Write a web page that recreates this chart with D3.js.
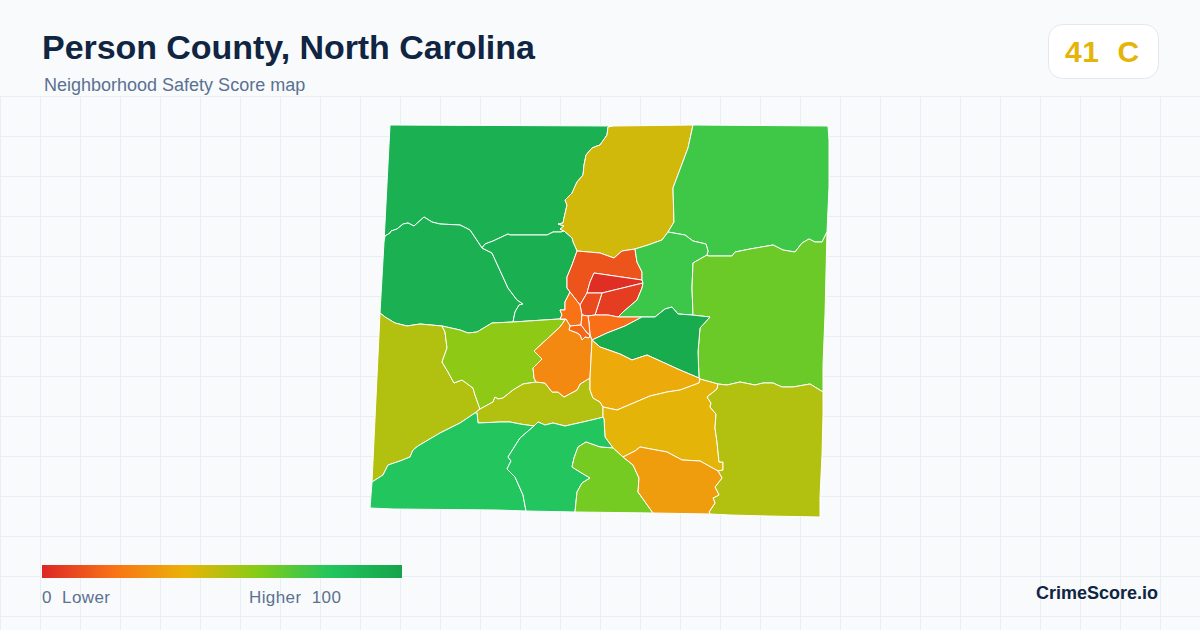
<!DOCTYPE html>
<html>
<head>
    <title>Person County, North Carolina</title>
    <script src="https://d3js.org/d3.v7.min.js"></script>
    <style>
        html, body { margin: 0; padding: 0; background: #f8fafc; }
        svg { display: block; font-family: "Liberation Sans", Arial, sans-serif; }
        text { white-space: pre; }
    </style>
</head>
<body>
    <svg id="chart" width="1200" height="630"></svg>

    <script>
        const titleText = 'Person County, North Carolina';
        const subtitleText = 'Neighborhood Safety Score map';
        const badgeText = '41  C';
        const badgeScore = 41;

        // color ramp of the legend
        const rampStops = [0, 20, 40, 60, 80, 100];
        const rampColors = ['#dc2626', '#f97316', '#eab308', '#84cc16', '#22c55e', '#16a34a'];

        // one score per tract, same order as tractRings
        const tractScores = [92, 45, 74, 92, 93, 12, 2, 6, 9.5, 74.5, 65, 51, 58, 51, 19, 20, 18, 17, 27, 95, 37.5, 41, 51, 80, 80, 63, 33];

        const tractRings = [
            // north west
            [[30,10],[253,11],[248,12],[247,20],[240,30],[237,31],[232,33],[226,40],[224,50],[223,60],[217,67],[212,78],[205,85],[207,90],[204,103],[203,108],[198,109],[204,111],[200,114],[204,116],[201,117],[193,117],[187,120],[150,120],[148,119],[133,126],[125,129],[122,133],[110,115],[100,110],[80,109],[72,107],[64,102],[54,111],[48,108],[43,109],[37,114],[31,116],[30,118],[25,121],[24,127]],
            // north
            [[253,11],[333,10],[328,33],[313,73],[314,107],[308,117],[302,125],[288,130],[275,134],[262,136],[254,143],[240,138],[217,136],[213,127],[212,123],[204,116],[200,114],[204,111],[198,109],[203,108],[204,103],[207,90],[205,85],[212,78],[217,67],[223,60],[224,50],[226,40],[232,33],[237,31],[240,30],[247,20],[248,12]],
            // north east
            [[333,10],[468,11],[469,25],[469,43],[469,72],[467,117],[462,127],[455,127],[449,124],[442,128],[435,137],[423,135],[413,130],[390,134],[375,137],[372,141],[348,141],[347,140],[348,136],[346,129],[333,126],[325,120],[308,117],[314,107],[313,73],[328,33]],
            // west
            [[24,127],[25,121],[30,118],[31,116],[37,114],[43,109],[48,108],[54,111],[64,102],[72,107],[80,109],[100,110],[110,115],[122,133],[132,138],[143,162],[148,173],[157,185],[163,189],[159,190],[155,197],[153,207],[132,208],[117,217],[108,218],[100,215],[82,211],[60,209],[47,211],[35,208],[25,202],[20,198]],
            // west of town
            [[122,133],[125,129],[133,126],[148,119],[150,120],[187,120],[193,117],[201,117],[204,116],[212,123],[213,127],[217,136],[212,150],[207,162],[207,173],[210,177],[205,187],[205,195],[200,195],[202,200],[200,204],[206,204],[205,205],[199,204],[153,207],[155,197],[159,190],[163,189],[157,185],[148,173],[143,162],[132,138]],
            // town north
            [[217,136],[240,138],[254,143],[262,136],[275,134],[277,147],[282,157],[282,165],[234,158],[230,167],[227,178],[220,190],[210,177],[207,173],[207,162],[212,150]],
            // town core
            [[234,158],[282,165],[283,168],[242,178],[227,178],[230,167]],
            // town east
            [[242,178],[283,168],[282,173],[277,185],[263,197],[258,202],[248,200],[235,200]],
            // town middle
            [[227,178],[242,178],[235,200],[228,201],[222,200],[220,190]],
            // north east of town
            [[308,117],[325,120],[333,126],[346,129],[348,136],[347,140],[333,148],[332,173],[333,199],[332,200],[318,199],[312,192],[305,194],[295,202],[287,202],[282,202],[258,202],[263,197],[277,185],[282,173],[283,168],[282,165],[282,157],[277,147],[275,134],[288,130],[302,125]],
            // east
            [[347,140],[348,141],[372,141],[375,137],[390,134],[413,130],[423,135],[435,137],[442,128],[449,124],[455,127],[462,127],[467,117],[465,200],[463,250],[463,277],[450,269],[433,272],[422,272],[413,268],[403,268],[395,270],[380,267],[367,270],[358,269],[340,264],[339,263],[338,237],[340,213],[350,202],[332,200],[333,199],[332,173],[333,148]],
            // south west olive
            [[20,198],[25,202],[35,208],[47,211],[60,209],[82,211],[85,217],[87,233],[82,247],[88,257],[94,268],[102,265],[113,273],[115,280],[120,294],[115,298],[100,308],[80,318],[58,331],[53,335],[50,342],[40,346],[28,350],[23,360],[12,367]],
            // central west
            [[82,211],[100,215],[108,218],[117,217],[132,208],[153,207],[199,204],[205,205],[200,212],[174,236],[182,244],[173,253],[174,263],[176,267],[163,269],[153,275],[143,283],[138,284],[135,282],[133,287],[120,294],[115,280],[113,273],[102,265],[94,268],[88,257],[82,247],[87,233],[85,217]],
            // central strip
            [[120,294],[133,287],[135,282],[138,284],[143,283],[153,275],[163,269],[176,267],[185,268],[192,277],[198,277],[204,282],[217,275],[220,269],[230,263],[230,275],[233,283],[240,287],[243,292],[243,302],[240,303],[223,307],[205,311],[193,308],[185,310],[178,307],[174,311],[160,309],[150,307],[140,307],[118,308],[117,298],[115,298]],
            // town south east
            [[228,201],[235,200],[248,200],[258,202],[282,202],[265,211],[247,218],[232,225],[230,220],[229,208]],
            // town spike
            [[210,177],[220,190],[222,200],[221,210],[210,211],[206,204],[200,204],[202,200],[200,195],[205,195],[205,187]],
            // town small
            [[222,200],[228,201],[229,208],[230,220],[227,218],[221,210]],
            // town small south
            [[210,211],[221,210],[227,218],[230,220],[229,223],[225,222],[222,225],[220,220],[217,218],[209,215]],
            // town south
            [[206,204],[210,211],[209,215],[217,218],[220,220],[222,225],[225,222],[229,223],[230,220],[232,225],[230,263],[220,269],[217,275],[204,282],[198,277],[192,277],[185,268],[176,267],[174,263],[173,253],[182,244],[174,236],[200,212],[205,205]],
            // east of town
            [[232,225],[247,218],[265,211],[282,202],[287,202],[295,202],[305,194],[312,192],[318,199],[332,200],[350,202],[340,213],[338,237],[339,263],[320,255],[287,240],[272,245],[260,239],[240,232]],
            // south of town
            [[232,225],[240,232],[260,239],[272,245],[287,240],[320,255],[339,263],[340,264],[339,268],[320,275],[307,277],[290,281],[257,295],[243,292],[240,287],[233,283],[230,275],[230,263]],
            // south centre
            [[243,292],[257,295],[290,281],[307,277],[320,275],[339,268],[340,264],[358,269],[357,274],[347,282],[351,288],[350,292],[356,299],[355,313],[357,327],[359,347],[363,347],[363,355],[358,356],[340,346],[322,345],[307,337],[280,332],[275,336],[263,342],[253,333],[245,322],[244,304],[243,302]],
            // south east
            [[358,269],[367,270],[380,267],[395,270],[403,268],[413,268],[422,272],[433,272],[450,269],[463,277],[463,300],[462,340],[460,382],[460,402],[407,401],[370,400],[350,399],[349,397],[355,388],[353,383],[359,380],[355,372],[362,363],[358,356],[363,355],[363,347],[359,347],[357,327],[355,313],[356,299],[350,292],[351,288],[347,282],[357,274]],
            // south west
            [[115,298],[117,298],[118,308],[140,307],[150,307],[160,309],[174,311],[160,323],[148,342],[151,346],[147,354],[155,362],[163,380],[166,396],[137,395],[33,394],[10,393],[12,367],[23,360],[28,350],[40,346],[50,342],[53,335],[58,331],[80,318],[100,308]],
            // south
            [[174,311],[178,307],[185,310],[193,308],[205,311],[223,307],[240,303],[243,302],[244,304],[245,322],[253,333],[240,332],[226,327],[218,332],[214,343],[212,352],[220,357],[230,363],[222,368],[217,377],[215,397],[166,396],[163,380],[155,362],[147,354],[151,346],[148,342],[160,323]],
            // south small
            [[226,327],[240,332],[253,333],[263,342],[273,350],[279,363],[278,377],[293,398],[215,397],[217,377],[222,368],[230,363],[220,357],[212,352],[214,343],[218,332]],
            // south border
            [[263,342],[275,336],[280,332],[307,337],[322,345],[340,346],[358,356],[362,363],[355,372],[359,380],[353,383],[355,388],[349,397],[350,399],[293,398],[278,377],[279,363],[273,350]]
        ];

        const svg = d3.select('#chart');
        const width = 1200;
        const height = 630;

        const color = d3.scaleLinear().domain(rampStops).range(rampColors);

        svg.append('rect')
            .attr('width', width)
            .attr('height', height)
            .attr('fill', '#f8fafc');

        // background grid, below the header only
        const grid = svg.append('g').attr('stroke', '#e8eff3').attr('stroke-width', 1);
        grid.selectAll('line.v')
            .data(d3.range(0, width, 40))
            .enter()
            .append('line')
            .attr('class', 'v')
            .attr('x1', d => d + 0.5)
            .attr('x2', d => d + 0.5)
            .attr('y1', 96)
            .attr('y2', height);
        grid.selectAll('line.h')
            .data(d3.range(96, height, 40))
            .enter()
            .append('line')
            .attr('class', 'h')
            .attr('x1', 0)
            .attr('x2', width)
            .attr('y1', d => d + 0.5)
            .attr('y2', d => d + 0.5);

        // map
        const xScale = d3.scaleLinear().domain([0, 480]).range([360, 840]);
        const yScale = d3.scaleLinear().domain([0, 410]).range([115, 525]);
        const ringPath = d3.line()
            .x(d => xScale(d[0]))
            .y(d => yScale(d[1]));

        svg.append('g')
            .selectAll('path')
            .data(tractRings)
            .enter()
            .append('path')
            .attr('d', d => ringPath(d) + 'Z')
            .attr('fill', (d, i) => color(tractScores[i]))
            .attr('stroke', '#ffffff')
            .attr('stroke-width', 1)
            .attr('stroke-linejoin', 'round');

        // header
        svg.append('text')
            .attr('x', 42)
            .attr('y', 59)
            .attr('font-size', 34)
            .attr('font-weight', 700)
            .attr('letter-spacing', -0.05)
            .attr('fill', '#0f2542')
            .text(titleText);
        svg.append('text')
            .attr('x', 44)
            .attr('y', 91)
            .attr('font-size', 18)
            .attr('fill', '#5a7191')
            .text(subtitleText);

        // score badge
        svg.append('rect')
            .attr('x', 1048.5)
            .attr('y', 24.5)
            .attr('width', 110)
            .attr('height', 54)
            .attr('rx', 14)
            .attr('fill', '#ffffff')
            .attr('stroke', '#e2e8f0');
        svg.append('text')
            .attr('x', 1065)
            .attr('y', 62)
            .attr('font-size', 30)
            .attr('font-weight', 700)
            .attr('letter-spacing', 0.6)
            .attr('fill', color(badgeScore))
            .text(badgeText);

        // legend
        const legendScale = d3.scaleLinear().domain([0, 100]).range([42, 402]);
        const gradient = svg.append('defs').append('linearGradient').attr('id', 'ramp');
        gradient.selectAll('stop')
            .data(rampStops)
            .enter()
            .append('stop')
            .attr('offset', d => d + '%')
            .attr('stop-color', d => color(d));
        svg.append('rect')
            .attr('x', legendScale(0))
            .attr('y', 565)
            .attr('width', legendScale(100) - legendScale(0))
            .attr('height', 13)
            .attr('fill', 'url(#ramp)');
        svg.append('text')
            .attr('x', 42)
            .attr('y', 603)
            .attr('font-size', 17)
            .attr('letter-spacing', 0.4)
            .attr('fill', '#5a7191')
            .text('0  Lower');
        svg.append('text')
            .attr('x', 249)
            .attr('y', 603)
            .attr('font-size', 17)
            .attr('letter-spacing', 0.4)
            .attr('fill', '#5a7191')
            .text('Higher  100');

        svg.append('text')
            .attr('x', 1158)
            .attr('y', 599)
            .attr('text-anchor', 'end')
            .attr('font-size', 18)
            .attr('font-weight', 700)
            .attr('fill', '#0f2542')
            .text('CrimeScore.io');
    </script>
</body>
</html>
